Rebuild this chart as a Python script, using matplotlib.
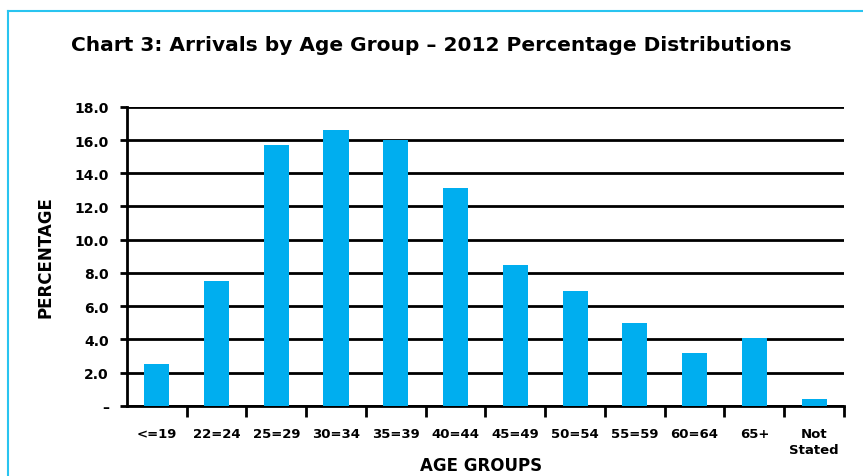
import matplotlib.pyplot as plt
from matplotlib.lines import Line2D
from matplotlib.ticker import FuncFormatter, FixedLocator

plt.rcParams['font.family'] = ['DejaVu Sans']
plt.rcParams['font.weight'] = 'bold'

age_groups = ['<=19', '22=24', '25=29', '30=34', '35=39', '40=44',
              '45=49', '50=54', '55=59', '60=64', '65+', 'Not\nStated']
percentages = [2.5, 7.5, 15.7, 16.6, 16.0, 13.1, 8.5, 6.9, 5.0, 3.2, 4.1, 0.4]
y_ticks = [0, 2, 4, 6, 8, 10, 12, 14, 16, 18]

fig = plt.figure(figsize=(8.63, 4.77), dpi=100)
ax = fig.add_axes([0.147, 0.147, 0.831, 0.627])

x = range(len(age_groups))
ax.bar(x, percentages, width=0.42, color='#00AEEF', zorder=3)

ax.set_xlim(-0.5, len(age_groups) - 0.5)
ax.set_ylim(0, 18)
ax.set_yticks(y_ticks)
ax.yaxis.set_major_formatter(FuncFormatter(lambda v, p: '\u2013' if v == 0 else '%.1f' % v))
ax.grid(axis='y', color='black', linewidth=2, zorder=1)
ax.set_axisbelow(True)

ax.set_xticks(list(x))
ax.set_xticklabels(age_groups, fontsize=9.5, fontweight='bold', linespacing=1.3)
ax.xaxis.set_minor_locator(FixedLocator([i + 0.5 for i in range(len(age_groups))]))
ax.tick_params(axis='x', which='major', length=0, pad=15)
ax.tick_params(axis='x', which='minor', length=8, width=2, direction='out', color='black')
ax.tick_params(axis='y', length=5, width=2, labelsize=10, pad=8)
for lab in ax.get_yticklabels():
    lab.set_fontweight('bold')

for s in ['top', 'right']:
    ax.spines[s].set_visible(False)
ax.spines['left'].set_linewidth(2)
ax.spines['bottom'].set_linewidth(2)

ax.set_ylabel('PERCENTAGE', fontsize=12, fontweight='bold', labelpad=14)
fig.text(0.558, 0.024, 'AGE GROUPS', ha='center', va='center', fontsize=12, fontweight='bold')
fig.text(0.5, 0.905, 'Chart 3: Arrivals by Age Group \u2013 2012 Percentage Distributions',
         ha='center', va='center', fontsize=14.5, fontweight='bold')

# light blue frame
fig.add_artist(Line2D([0.009, 1.0], [0.975, 0.975], color='#29C4F0', linewidth=1.5))
fig.add_artist(Line2D([0.009, 0.009], [0.0, 0.975], color='#29C4F0', linewidth=1.5))

plt.savefig('out.png', dpi=100)
